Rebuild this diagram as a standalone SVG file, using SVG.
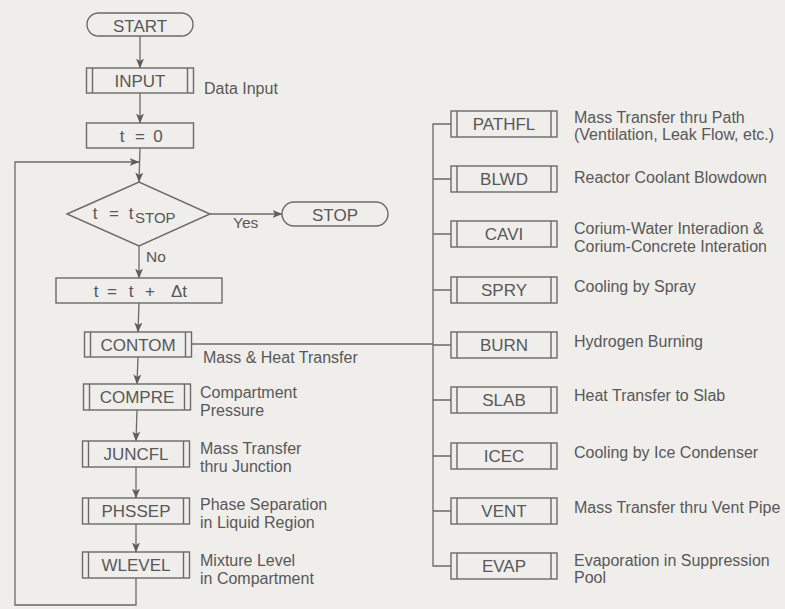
<svg xmlns="http://www.w3.org/2000/svg" width="785" height="609" viewBox="0 0 785 609">
<style>
.bg{fill:#efeeeb}
.b{fill:none;stroke:#6a6a6a;stroke-width:1.4}
.c{fill:none;stroke:#6a6a6a;stroke-width:1.3}
text{font-family:"Liberation Sans",Arial,Helvetica,sans-serif;fill:#585858}
.l{font-size:17px;text-anchor:middle}
.d{font-size:16px}
.s{font-size:15.5px}
</style>
<defs>
<marker id="ah" markerWidth="10" markerHeight="8" refX="9.5" refY="4" orient="auto" markerUnits="userSpaceOnUse">
<path d="M0,0 L10,4 L0,8 L2.5,4 z" fill="#5e5e5e"/>
</marker>
</defs>
<rect class="bg" x="0" y="0" width="785" height="609"/>

<g id="connectors">
<line class="c" x1="140" y1="36" x2="140" y2="68" marker-end="url(#ah)"/>
<line class="c" x1="140" y1="93" x2="140" y2="123" marker-end="url(#ah)"/>
<line class="c" x1="140" y1="148" x2="139" y2="182" marker-end="url(#ah)"/>
<polyline class="c" points="136,578 136,605 15,605 15,162 139,162" marker-end="url(#ah)"/>
<line class="c" x1="210" y1="214" x2="282" y2="214" marker-end="url(#ah)"/>
<line class="c" x1="139" y1="246" x2="139" y2="278" marker-end="url(#ah)"/>
<line class="c" x1="139" y1="303" x2="138" y2="332" marker-end="url(#ah)"/>
<line class="c" x1="138" y1="357" x2="137" y2="384" marker-end="url(#ah)"/>
<line class="c" x1="137" y1="410" x2="136" y2="441" marker-end="url(#ah)"/>
<line class="c" x1="136" y1="467" x2="136" y2="498" marker-end="url(#ah)"/>
<line class="c" x1="136" y1="524" x2="136" y2="552" marker-end="url(#ah)"/>
<line class="c" x1="191.5" y1="344" x2="433" y2="344"/>
<path class="c" d="M451,124 H433 V566 H451 M433,179 H451 M433,234 H451 M433,290 H451 M433,345 H451 M433,400 H451 M433,456 H451 M433,511 H451"/>
<text class="s" x="233" y="228">Yes</text>
<text class="s" x="146" y="262">No</text>
</g>

<g id="start">
<rect class="b" x="87" y="13" width="106" height="23" rx="11.5"/>
<text class="l" x="140" y="32">START</text>
</g>
<g id="input">
<rect class="b" x="86.5" y="68" width="107" height="25"/>
<path class="b" d="M92.5,68 V93 M187.5,68 V93"/>
<text class="l" x="140" y="87">INPUT</text>
<text class="d" x="204" y="94">Data Input</text>
</g>
<g id="t0">
<rect class="b" x="86.5" y="123" width="107" height="25"/>
<text class="l" x="122" y="142">t</text>
<text class="l" x="140" y="142">=</text>
<text class="l" x="158" y="142">0</text>
</g>
<g id="decision">
<polygon class="b" points="67,214 139,182 210,214 139,246"/>
<text class="l" x="95" y="219">t</text>
<text class="l" x="114" y="219">=</text>
<text class="l" x="131" y="219">t</text>
<text style="font-size:15px" x="135" y="223">STOP</text>
</g>
<g id="stop">
<rect class="b" x="282" y="202" width="106" height="24" rx="12"/>
<text class="l" x="335" y="221">STOP</text>
</g>
<g id="tinc">
<rect class="b" x="56" y="278" width="166" height="25"/>
<text class="l" x="96" y="297">t</text>
<text class="l" x="112" y="297">=</text>
<text class="l" x="131" y="297">t</text>
<text class="l" x="150" y="297">+</text>
<text class="l" x="179" y="297">Δt</text>
</g>
<g id="contom">
<rect class="b" x="84.5" y="332" width="107" height="25"/>
<path class="b" d="M90.5,332 V357 M185.5,332 V357"/>
<text class="l" x="138" y="351">CONTOM</text>
<text class="d" x="203" y="363">Mass &amp; Heat Transfer</text>
</g>
<g id="compre">
<rect class="b" x="83.5" y="384" width="107" height="26"/>
<path class="b" d="M89.5,384 V410 M184.5,384 V410"/>
<text class="l" x="137" y="403">COMPRE</text>
<text class="d" x="200" y="398">Compartment</text>
<text class="d" x="200" y="416">Pressure</text>
</g>
<g id="juncfl">
<rect class="b" x="82.5" y="441" width="107" height="26"/>
<path class="b" d="M88.5,441 V467 M183.5,441 V467"/>
<text class="l" x="136" y="460">JUNCFL</text>
<text class="d" x="200" y="454">Mass Transfer</text>
<text class="d" x="200" y="472">thru Junction</text>
</g>
<g id="phssep">
<rect class="b" x="82.5" y="498" width="107" height="26"/>
<path class="b" d="M88.5,498 V524 M183.5,498 V524"/>
<text class="l" x="136" y="517">PHSSEP</text>
<text class="d" x="200" y="510">Phase Separation</text>
<text class="d" x="200" y="528">in Liquid Region</text>
</g>
<g id="wlevel">
<rect class="b" x="82.5" y="552" width="107" height="26"/>
<path class="b" d="M88.5,552 V578 M183.5,552 V578"/>
<text class="l" x="136" y="571">WLEVEL</text>
<text class="d" x="200" y="566">Mixture Level</text>
<text class="d" x="200" y="584">in Compartment</text>
</g>

<g id="pathfl">
<rect class="b" x="451" y="111" width="106" height="26"/>
<path class="b" d="M457,111 V137 M551,111 V137"/>
<text class="l" x="504" y="130">PATHFL</text>
<text class="d" x="574" y="123">Mass Transfer thru Path</text>
<text class="d" x="574" y="140">(Ventilation, Leak Flow, etc.)</text>
</g>
<g id="blwd">
<rect class="b" x="451" y="166" width="106" height="26"/>
<path class="b" d="M457,166 V192 M551,166 V192"/>
<text class="l" x="504" y="185">BLWD</text>
<text class="d" x="574" y="183">Reactor Coolant Blowdown</text>
</g>
<g id="cavi">
<rect class="b" x="451" y="221" width="106" height="26"/>
<path class="b" d="M457,221 V247 M551,221 V247"/>
<text class="l" x="504" y="240">CAVI</text>
<text class="d" x="574" y="234">Corium-Water Interadion &amp;</text>
<text class="d" x="574" y="252">Corium-Concrete Interation</text>
</g>
<g id="spry">
<rect class="b" x="451" y="277" width="106" height="26"/>
<path class="b" d="M457,277 V303 M551,277 V303"/>
<text class="l" x="504" y="296">SPRY</text>
<text class="d" x="574" y="292">Cooling by Spray</text>
</g>
<g id="burn">
<rect class="b" x="451" y="332" width="106" height="26"/>
<path class="b" d="M457,332 V358 M551,332 V358"/>
<text class="l" x="504" y="351">BURN</text>
<text class="d" x="574" y="347">Hydrogen Burning</text>
</g>
<g id="slab">
<rect class="b" x="451" y="387" width="106" height="26"/>
<path class="b" d="M457,387 V413 M551,387 V413"/>
<text class="l" x="504" y="406">SLAB</text>
<text class="d" x="574" y="401">Heat Transfer to Slab</text>
</g>
<g id="icec">
<rect class="b" x="451" y="443" width="106" height="26"/>
<path class="b" d="M457,443 V469 M551,443 V469"/>
<text class="l" x="504" y="462">ICEC</text>
<text class="d" x="574" y="458">Cooling by Ice Condenser</text>
</g>
<g id="vent">
<rect class="b" x="451" y="498" width="106" height="26"/>
<path class="b" d="M457,498 V524 M551,498 V524"/>
<text class="l" x="504" y="517">VENT</text>
<text class="d" x="574" y="513">Mass Transfer thru Vent Pipe</text>
</g>
<g id="evap">
<rect class="b" x="451" y="553" width="106" height="26"/>
<path class="b" d="M457,553 V579 M551,553 V579"/>
<text class="l" x="504" y="572">EVAP</text>
<text class="d" x="574" y="566">Evaporation in Suppression</text>
<text class="d" x="574" y="583">Pool</text>
</g>
</svg>
